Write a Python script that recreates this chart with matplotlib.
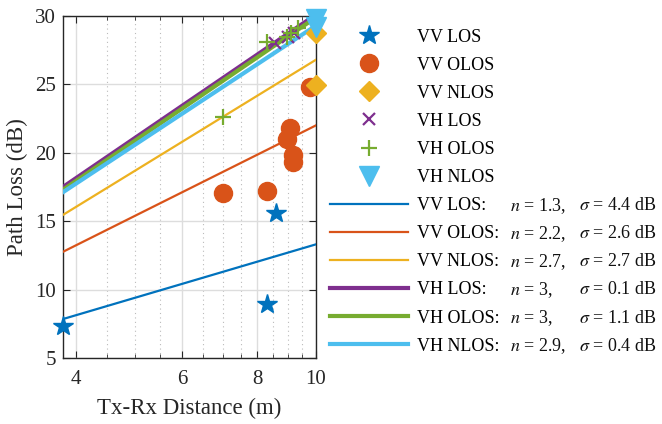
import numpy as np
import matplotlib
matplotlib.use('Agg')
import matplotlib.pyplot as plt
from matplotlib.ticker import FixedLocator, NullFormatter

plt.rcParams['font.family'] = ['Liberation Serif', 'DejaVu Serif']
plt.rcParams['mathtext.fontset'] = 'stix'

# medidas (distancia en m, perdida en dB)
vv_los_d = [3.8, 8.3, 8.6]
vv_los_pl = [7.3, 8.95, 15.6]
vv_olos_d = [7.0, 8.3, 8.95, 9.05, 9.15, 9.15, 9.8]
vv_olos_pl = [17.05, 17.2, 21.0, 21.8, 19.85, 19.3, 24.85]
vv_nlos_d = [10.0, 10.0]
vv_nlos_pl = [28.8, 24.95]
vh_los_d = [8.55, 9.0, 9.2]
vh_los_pl = [28.0, 28.5, 28.8]
vh_olos_d = [7.0, 8.3, 8.95, 9.1, 9.35]
vh_olos_pl = [22.6, 28.1, 28.5, 28.75, 29.1]
vh_nlos_d = [10.0, 10.0]
vh_nlos_pl = [29.8, 29.2]

# ajuste: PL = A + 10 n log10(d)
fit_names = ['VV LOS:', 'VV OLOS:', 'VV NLOS:', 'VH LOS:', 'VH OLOS:', 'VH NLOS:']
fit_n = [1.3, 2.2, 2.7, 3, 3, 2.9]
fit_sigma = [4.4, 2.6, 2.7, 0.1, 1.1, 0.4]
fit_a = [0.3, 0.0, -0.2, 0.1, -0.1, 0.3]

colors = ['#0072BD', '#D95319', '#EDB120', '#7E2F8E', '#77AC30', '#4DBEEE']

fig = plt.figure(figsize=(6.62, 4.24), dpi=100)
ax = fig.add_axes([0.095, 0.156, 0.382, 0.806])

handles = []
h, = ax.plot(vv_los_d, vv_los_pl, '*', color=colors[0], ms=15, clip_on=False, zorder=5)
handles.append(h)
h, = ax.plot(vv_olos_d, vv_olos_pl, 'o', color=colors[1], ms=13, clip_on=False, zorder=5)
handles.append(h)
h, = ax.plot(vv_nlos_d, vv_nlos_pl, 'D', color=colors[2], ms=10, clip_on=False, zorder=5)
handles.append(h)
h, = ax.plot(vh_los_d, vh_los_pl, 'x', color=colors[3], ms=9, mew=1.6, clip_on=False, zorder=5)
handles.append(h)
h, = ax.plot(vh_olos_d, vh_olos_pl, '+', color=colors[4], ms=11, mew=1.6, clip_on=False, zorder=5)
handles.append(h)
h, = ax.plot(vh_nlos_d, vh_nlos_pl, 'v', color=colors[5], ms=14, clip_on=False, zorder=5)
handles.append(h)

d = np.logspace(np.log10(3.8), 1, 100)
widths = [1.6, 1.6, 1.6, 3.0, 3.0, 3.0]
for i in range(6):
    h, = ax.plot(d, fit_a[i] + 10 * fit_n[i] * np.log10(d), color=colors[i], lw=widths[i], zorder=3)
    handles.append(h)

ax.set_xscale('log')
ax.set_xlim(3.8, 10)
ax.set_ylim(5, 30)
ax.xaxis.set_major_locator(FixedLocator([4, 6, 8, 10]))
ax.xaxis.set_minor_locator(FixedLocator([4.5, 5, 5.5, 6.5, 7, 7.5, 8.5, 9, 9.5]))
ax.xaxis.set_minor_formatter(NullFormatter())
ax.set_xticklabels(['4', '6', '8', '10'])
ax.set_yticks([5, 10, 15, 20, 25, 30])
ax.tick_params(which='both', direction='in', top=True, right=True, labelsize=15, colors='#262626')
ax.tick_params(which='major', length=5)
ax.tick_params(which='minor', length=3)
ax.tick_params(axis='x', pad=9)
ax.tick_params(axis='y', pad=5)
ax.grid(True, which='major', color='#dddddd', lw=1.0)
ax.grid(True, which='minor', axis='x', color='#bbbbbb', lw=0.8, linestyle=(0, (1, 3)))
ax.set_axisbelow(True)
for s in ax.spines.values():
    s.set_color('#262626')
    s.set_linewidth(1.0)

ax.set_xlabel('Tx-Rx Distance (m)', fontsize=16.5, color='#262626', labelpad=6)
ax.set_ylabel('Path Loss (dB)', fontsize=16.5, color='#262626', labelpad=5)

labels = ['VV LOS', 'VV OLOS', 'VV NLOS', 'VH LOS', 'VH OLOS', 'VH NLOS'] + fit_names
leg = fig.legend(handles, labels, loc='upper left', bbox_to_anchor=(330 / 662, 1 - 28.5 / 424),
                 frameon=False, fontsize=13, handlelength=4.3, handletextpad=0.5,
                 labelspacing=0.615, borderpad=0, borderaxespad=0)

# columnas de n y sigma alineadas con la leyenda
fig.canvas.draw()
inv = fig.transFigure.inverted()
texts = leg.get_texts()
for i in range(6):
    bb = texts[6 + i].get_window_extent()
    y = inv.transform((0, (bb.y0 + bb.y1) / 2))[1]
    fig.text(510 / 662, y, r'$n$ = %s,' % fit_n[i], fontsize=13, va='center', color='#111111')
    fig.text(579 / 662, y, r'$\sigma$ = %s dB' % fit_sigma[i], fontsize=13, va='center', color='#111111')

fig.savefig('out.png', dpi=100)
